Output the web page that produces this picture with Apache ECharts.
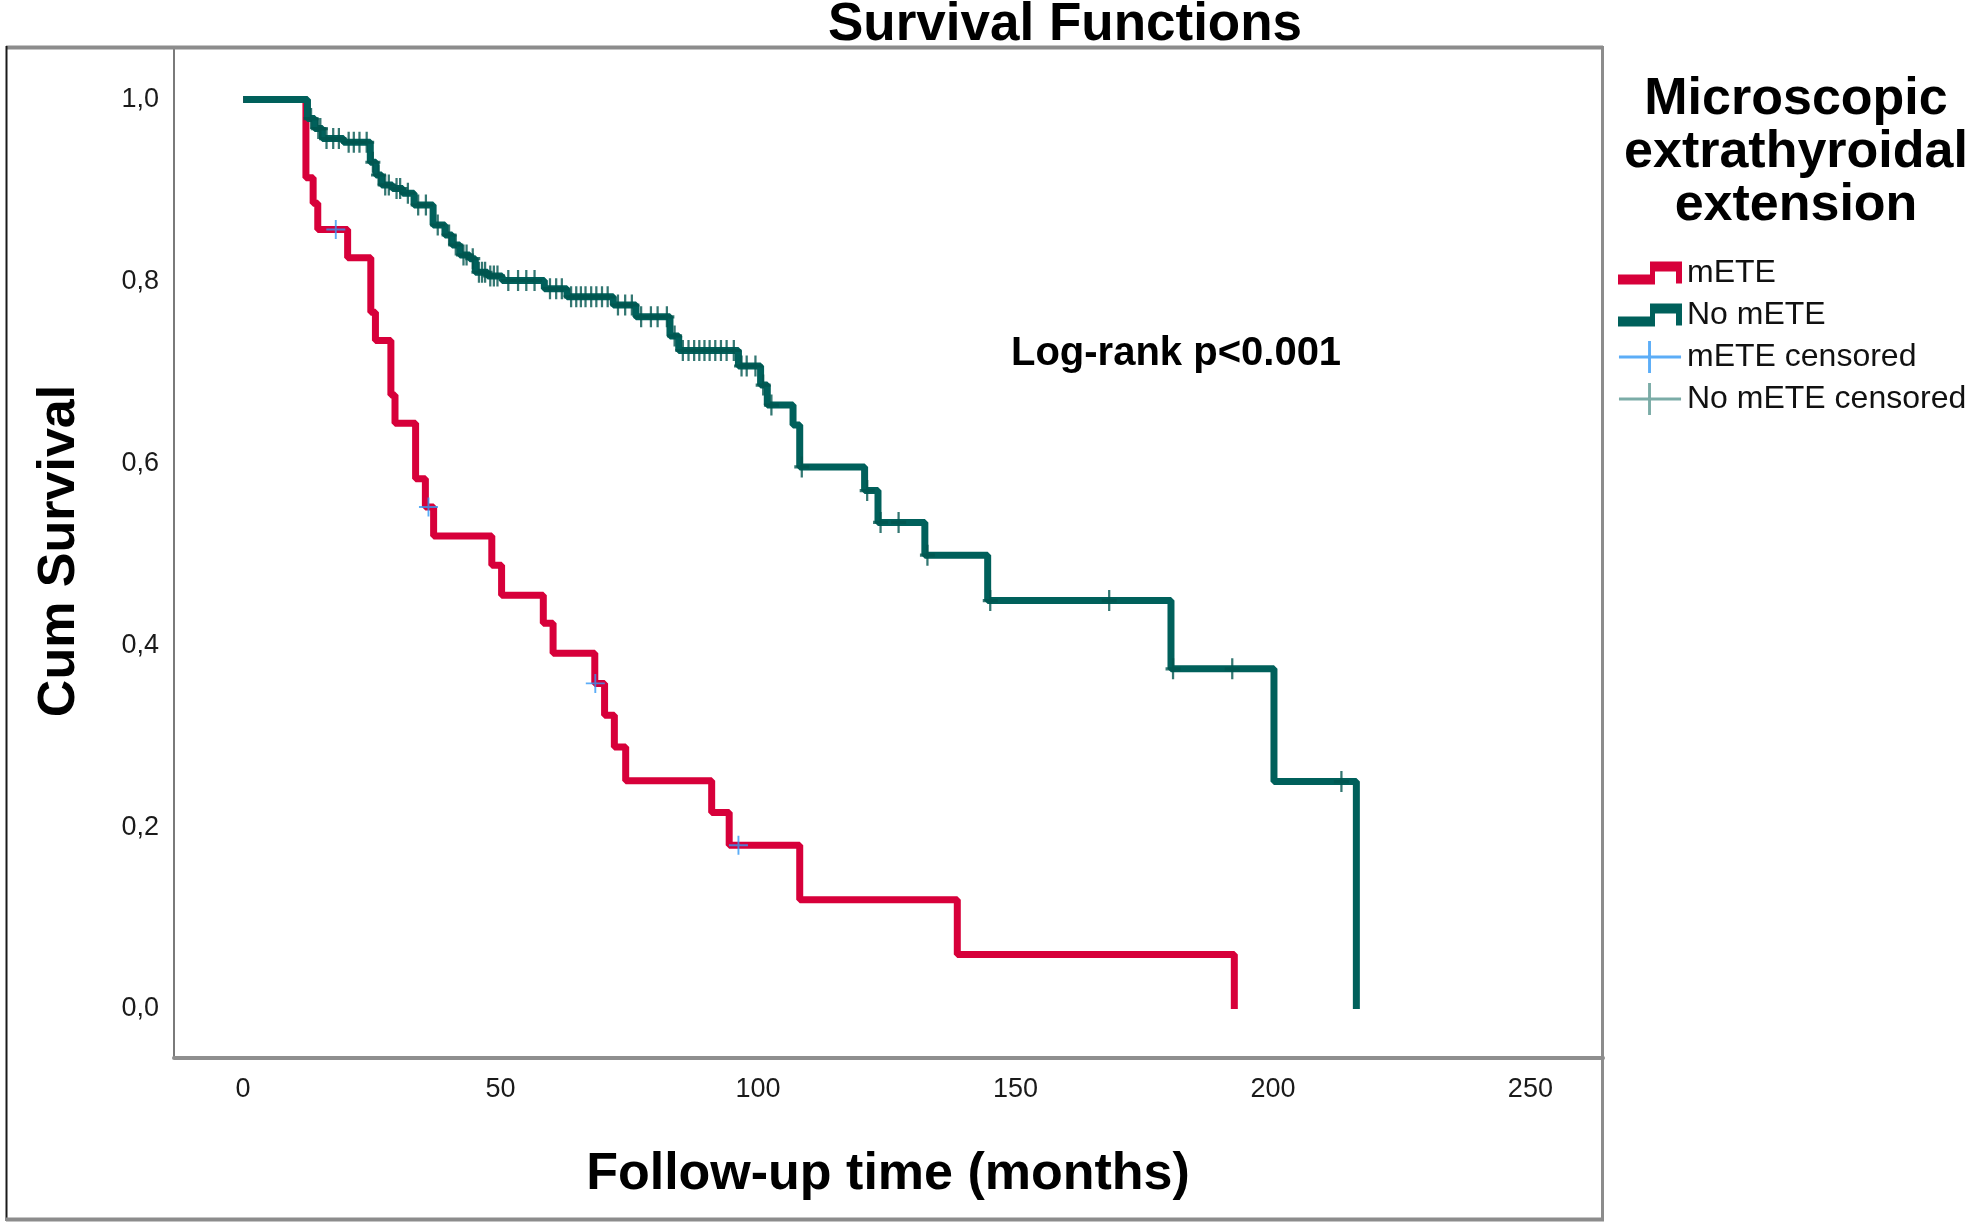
<!DOCTYPE html>
<html><head><meta charset="utf-8">
<script src="https://cdn.jsdelivr.net/npm/echarts@6/dist/echarts.min.js"></script>
<style>html,body{margin:0;padding:0;background:#fff}#c{width:1975px;height:1227px}</style>
</head><body><div id="c"></div>
<script>
// ---- data ----
const xTicks = [0, 50, 100, 150, 200, 250];
const yTicks = [0, 0.2, 0.4, 0.6, 0.8, 1.0];

// mETE (Kaplan-Meier steps: time, survival after event)
const mETE_time = [0, 12.2, 13.6, 14.5, 20.3, 24.8, 25.7, 28.7, 29.5, 33.5, 35.4, 37.0, 48.3, 50.2, 58.3, 60.2, 68.3, 70.2, 72.1, 74.3, 91.0, 94.4, 108.1, 138.7, 192.5];
const mETE_surv = [1.000, 0.914, 0.886, 0.857, 0.826, 0.766, 0.735, 0.675, 0.644, 0.583, 0.552, 0.520, 0.488, 0.455, 0.424, 0.391, 0.358, 0.323, 0.288, 0.251, 0.216, 0.180, 0.120, 0.060, 0.000];

// No mETE
const noMETE_time = [0, 12.5, 13.9, 15.4, 19.5, 24.7, 25.8, 26.9, 29.0, 31.0, 33.2, 36.9, 39.2, 40.6, 42.1, 44.0, 45.1, 47.5, 50.3, 58.5, 62.9, 71.9, 76.3, 82.9, 84.6, 96.2, 100.5, 101.8, 106.8, 108.1, 120.7, 123.3, 132.4, 144.6, 180.2, 200.2, 216.2];
const noMETE_surv = [1.000, 0.979, 0.968, 0.957, 0.953, 0.931, 0.917, 0.906, 0.902, 0.897, 0.884, 0.862, 0.851, 0.840, 0.829, 0.825, 0.810, 0.806, 0.801, 0.792, 0.783, 0.774, 0.761, 0.740, 0.724, 0.707, 0.686, 0.664, 0.642, 0.596, 0.570, 0.535, 0.499, 0.449, 0.374, 0.250, 0.000];

// censored observations
const mETE_cens_time = [18.0, 36.0, 68.4, 96.2];
const mETE_cens_surv = [0.857, 0.552, 0.358, 0.180];

const noMETE_cens_time = [13.2, 14.6, 15.0, 16.2, 17.5, 18.6, 20.5, 21.5, 22.6, 24.0, 25.2, 26.3, 27.6, 28.3, 29.8, 30.5, 32.0, 34.0, 35.5, 37.8, 40.0, 41.3, 42.8, 43.4, 44.6, 45.8, 46.4, 47.0, 48.0, 48.7, 49.4, 51.5, 53.4, 55.0, 56.6, 59.6, 60.8, 61.9, 63.7, 64.7, 65.6, 66.5, 67.6, 68.6, 69.7, 70.8, 72.8, 74.2, 75.5, 77.3, 79.2, 80.5, 82.3, 83.8, 85.4, 86.5, 87.6, 88.6, 89.6, 90.6, 91.7, 92.8, 93.9, 95.3, 96.8, 97.8, 99.5, 101.0, 102.6, 108.5, 121.2, 123.8, 127.3, 132.9, 145.1, 168.2, 180.6, 192.1, 213.3];
const noMETE_cens_surv = [0.979, 0.968, 0.968, 0.957, 0.957, 0.957, 0.953, 0.953, 0.953, 0.953, 0.931, 0.917, 0.906, 0.906, 0.902, 0.902, 0.897, 0.884, 0.884, 0.862, 0.851, 0.840, 0.829, 0.829, 0.825, 0.810, 0.810, 0.810, 0.806, 0.806, 0.806, 0.801, 0.801, 0.801, 0.801, 0.792, 0.792, 0.792, 0.783, 0.783, 0.783, 0.783, 0.783, 0.783, 0.783, 0.783, 0.774, 0.774, 0.774, 0.761, 0.761, 0.761, 0.761, 0.740, 0.724, 0.724, 0.724, 0.724, 0.724, 0.724, 0.724, 0.724, 0.724, 0.724, 0.707, 0.707, 0.707, 0.686, 0.664, 0.596, 0.570, 0.535, 0.535, 0.499, 0.449, 0.449, 0.374, 0.374, 0.250];

const seriesNames = ['mETE', 'No mETE', 'mETE censored', 'No mETE censored'];

// ---- styles ----
const RED = '#D7003A';
const GREEN = '#00605B';
const BLUE = '#3399F5';
const GREEN_CENS = '#00554F';
const FONT = '"Liberation Sans", Arial, sans-serif';
const plusPath = 'path://M9,0 L11,0 L11,9 L20,9 L20,11 L11,11 L11,20 L9,20 L9,11 L0,11 L0,9 L9,9 Z';
const plusBold = 'path://M8.5,0 L11.5,0 L11.5,8.5 L20,8.5 L20,11.5 L11.5,11.5 L11.5,20 L8.5,20 L8.5,11.5 L0,11.5 L0,8.5 L8.5,8.5 Z';
const stepIcon = 'path://M0,13 L32,13 L32,0 L64,0 L64,22 L58,22 L58,10 L37,10 L37,23 L0,23 Z';
const censIcon = 'path://M0,15 L30,15 L30,0 L33,0 L33,15 L64,15 L64,18 L33,18 L33,33 L30,33 L30,18 L0,18 Z';

const zip = (a, b) => a.map((v, i) => [v, b[i]]);

const chart = echarts.init(document.getElementById('c'), null, {renderer: 'canvas'});
chart.setOption({
  animation: false,
  backgroundColor: '#ffffff',
  grid: {left: 174, top: 48, width: 1429, height: 1010, containLabel: false},
  xAxis: {
    type: 'value', min: -13.42, max: 264.1,
    axisLine: {show: true, onZero: false, lineStyle: {color: '#8f8f8f', width: 4}},
    axisTick: {show: false},
    splitLine: {show: false},
    axisLabel: {customValues: xTicks, margin: 18, fontSize: 27, lineHeight: 27, color: '#1a1a1a', fontFamily: FONT,
      formatter: v => String(v)}
  },
  yAxis: {
    type: 'value', min: -0.0539, max: 1.0566,
    axisLine: {show: true, onZero: false, lineStyle: {color: '#7a7a7a', width: 2}},
    axisTick: {show: false},
    splitLine: {show: false},
    axisLabel: {customValues: yTicks, margin: 15, fontSize: 27, color: '#1a1a1a', fontFamily: FONT,
      formatter: v => v.toFixed(1).replace('.', ',')}
  },
  legend: {
    orient: 'vertical', left: 1618, top: 257, padding: 0,
    itemWidth: 64, itemHeight: 32, itemGap: 10, selectedMode: false,
    textStyle: {fontSize: 32, lineHeight: 32, color: '#111', fontFamily: FONT},
    data: [
      {name: seriesNames[0], icon: stepIcon},
      {name: seriesNames[1], icon: stepIcon},
      {name: seriesNames[2], icon: censIcon, itemStyle: {color: BLUE}},
      {name: seriesNames[3], icon: censIcon, itemStyle: {color: '#5a9791'}}
    ]
  },
  series: [
    {name: seriesNames[0], type: 'line', step: 'end', symbol: 'none', data: zip(mETE_time, mETE_surv),
      lineStyle: {color: RED, width: 7}, itemStyle: {color: RED}, z: 2},
    {name: seriesNames[1], type: 'line', step: 'end', symbol: 'none', data: zip(noMETE_time, noMETE_surv),
      lineStyle: {color: GREEN, width: 7}, itemStyle: {color: GREEN}, z: 3},
    {name: seriesNames[2], type: 'scatter', symbol: plusPath, symbolSize: [19, 19],
      data: zip(mETE_cens_time, mETE_cens_surv), itemStyle: {color: BLUE}, z: 4},
    {name: seriesNames[3], type: 'scatter', symbol: plusBold, symbolSize: [15, 21],
      data: zip(noMETE_cens_time, noMETE_cens_surv), itemStyle: {color: GREEN_CENS}, z: 4}
  ],
  graphic: [
    {type: 'line', shape: {x1: 6, y1: 47.5, x2: 1603, y2: 47.5}, style: {stroke: '#8c8c8c', lineWidth: 4}, z: 10},
    {type: 'line', shape: {x1: 6.5, y1: 46, x2: 6.5, y2: 1221}, style: {stroke: '#1a1a1a', lineWidth: 2}, z: 10},
    {type: 'line', shape: {x1: 1602.5, y1: 46, x2: 1602.5, y2: 1221}, style: {stroke: '#8c8c8c', lineWidth: 3}, z: 10},
    {type: 'line', shape: {x1: 6, y1: 1219.5, x2: 1604, y2: 1219.5}, style: {stroke: '#8c8c8c', lineWidth: 4}, z: 10},
    {type: 'text', style: {text: 'Survival Functions', x: 1065, y: 25, textAlign: 'center', textVerticalAlign: 'middle',
      font: 'bold 53px ' + FONT, fill: '#000'}},
    {type: 'text', style: {text: 'Follow-up time (months)', x: 888, y: 1175, textAlign: 'center', textVerticalAlign: 'middle',
      font: 'bold 52px ' + FONT, fill: '#000'}},
    {type: 'text', x: 60, y: 551, rotation: Math.PI / 2,
      style: {text: 'Cum Survival', x: 0, y: 0, textAlign: 'center', textVerticalAlign: 'middle',
      font: 'bold 52px ' + FONT, fill: '#000'}},
    {type: 'text', style: {text: 'Log-rank p<0.001', x: 1011, y: 354, textAlign: 'left', textVerticalAlign: 'middle',
      font: 'bold 40px ' + FONT, fill: '#000'}},
    {type: 'text', style: {text: 'Microscopic', x: 1796, y: 100, textAlign: 'center', textVerticalAlign: 'middle',
      font: 'bold 52px ' + FONT, fill: '#000'}},
    {type: 'text', style: {text: 'extrathyroidal', x: 1796, y: 153, textAlign: 'center', textVerticalAlign: 'middle',
      font: 'bold 52px ' + FONT, fill: '#000'}},
    {type: 'text', style: {text: 'extension', x: 1796, y: 206, textAlign: 'center', textVerticalAlign: 'middle',
      font: 'bold 52px ' + FONT, fill: '#000'}}
  ]
});
</script></body></html>
